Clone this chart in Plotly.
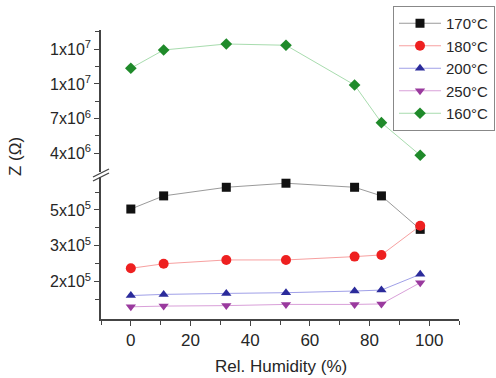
import plotly.graph_objects as go

# ---- data ----
humidity = [0, 11, 32, 52, 75, 84, 97]
z_170 = [4.54e5, 5.09e5, 5.45e5, 5.62e5, 5.45e5, 5.09e5, 3.69e5]
z_180 = [2.06e5, 2.25e5, 2.41e5, 2.41e5, 2.55e5, 2.62e5, 3.84e5]
z_200 = [0.92e5, 0.97e5, 1.01e5, 1.04e5, 1.11e5, 1.15e5, 1.81e5]
z_250 = [0.45e5, 0.48e5, 0.50e5, 0.55e5, 0.55e5, 0.57e5, 1.46e5]
z_160 = [1.136e7, 1.294e7, 1.346e7, 1.335e7, 9.91e6, 6.65e6, 3.83e6]

x_ticks = [0, 20, 40, 60, 80, 100]
low_tickvals = [1.5e5, 3.0e5, 4.5e5]
low_ticktext = ["2x10<sup>5</sup>", "3x10<sup>5</sup>", "5x10<sup>5</sup>"]
up_tickvals = [4e6, 7e6, 1e7, 1.3e7]
up_ticktext = ["4x10<sup>6</sup>", "7x10<sup>6</sup>", "1x10<sup>7</sup>", "1x10<sup>7</sup>"]

FONT = "Liberation Sans, Arial, sans-serif"
TXT = "#262626"
AX = "#444444"

series = [
    ("170°C", z_170, "y", "square", "#111111", "#9a9a9a", 9),
    ("180°C", z_180, "y", "circle", "#ee2020", "#f7a0a0", 10),
    ("200°C", z_200, "y", "triangle-up", "#2b2b9b", "#a0a0e8", 9),
    ("250°C", z_250, "y", "triangle-down", "#9a3a9e", "#d9a0d9", 9),
    ("160°C", z_160, "y2", "diamond", "#1f8a2a", "#a8dcae", 9),
]

fig = go.Figure()
for name, vals, yax, sym, mcol, lcol, msz in series:
    fig.add_trace(go.Scatter(
        x=humidity, y=vals, yaxis=yax, name=name, mode="lines+markers",
        line=dict(color=lcol, width=1),
        marker=dict(symbol=sym, color=mcol, size=msz, line=dict(width=0)),
    ))

# geometry helpers (pixels -> paper)
L, R, T, B = 101, 459, 30, 319
W, H = R - L, B - T
def px(x):
    return (x - L) / W
def py(y):
    return (B - y) / H

axis_common = dict(
    showline=True, linecolor=AX, linewidth=1.5, ticks="outside", ticklen=5,
    tickwidth=1.2, tickcolor=AX, showgrid=False, zeroline=False,
    tickfont=dict(family=FONT, size=16, color=TXT),
)

fig.update_layout(
    width=496, height=378,
    margin=dict(l=L, r=496 - R, t=T, b=378 - B, autoexpand=False),
    paper_bgcolor="white", plot_bgcolor="white",
    xaxis=dict(range=[-10, 110], tickmode="array", tickvals=x_ticks,
               minor=dict(ticks="outside", ticklen=4, tickcolor=AX, dtick=10, tick0=0),
               **{**axis_common, "tickfont": dict(family=FONT, size=17, color=TXT)}),
    yaxis=dict(domain=[0, py(177)], range=[-6000, 5.88e5], tickmode="array",
               tickvals=low_tickvals, ticktext=low_ticktext,
               minor=dict(ticks="outside", ticklen=4, tickcolor=AX,
                          tickmode="array", tickvals=[0.75e5, 2.25e5, 3.75e5, 5.25e5]),
               **axis_common),
    yaxis2=dict(domain=[py(172), 1], range=[2.38e6, 1.467e7], tickmode="array",
                tickvals=up_tickvals, ticktext=up_ticktext, anchor="x",
                minor=dict(ticks="outside", ticklen=4, tickcolor=AX,
                           tickmode="array", tickvals=[5.5e6, 8.5e6, 1.15e7, 1.45e7]),
                **axis_common),
    legend=dict(x=px(393), y=py(6), xanchor="left", yanchor="top",
                bgcolor="white", bordercolor="#888888", borderwidth=1,
                font=dict(family=FONT, size=15, color=TXT),
                tracegroupgap=0, itemwidth=42),
    showlegend=True,
    font=dict(family=FONT, color=TXT),
)

# axis titles
fig.add_annotation(text="Rel. Humidity (%)", xref="paper", yref="paper",
                   x=px(281), y=py(377), showarrow=False, xanchor="center", yanchor="bottom",
                   borderpad=0, font=dict(family=FONT, size=17, color=TXT))
fig.add_annotation(text="Z (Ω)", xref="paper", yref="paper",
                   x=px(15), y=py(157), showarrow=False, textangle=-90,
                   xanchor="center", yanchor="middle",
                   font=dict(family=FONT, size=17, color=TXT))

# axis break marks
for dy in (0, 4):
    fig.add_shape(type="line", xref="paper", yref="paper",
                  x0=px(93), y0=py(177 + dy), x1=px(109), y1=py(169 + dy),
                  line=dict(color=AX, width=1.3))

fig.write_html("out.html")
